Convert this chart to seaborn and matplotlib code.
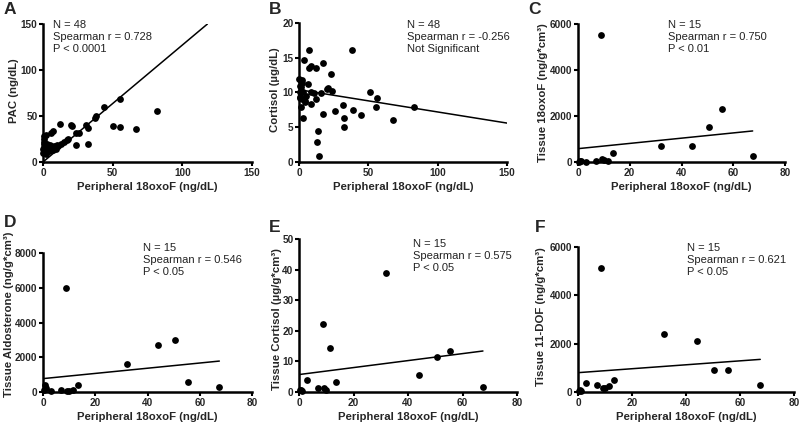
import numpy as np
import pandas as pd
import matplotlib
matplotlib.use('Agg')
import matplotlib.pyplot as plt
import seaborn as sns

# ---- data ----
# Panel A / B : peripheral 18oxoF vs PAC and cortisol (N = 48)
a_x = [55, 44, 82, 38, 37, 12, 20, 21, 31, 32,
       50, 55, 67, 26, 24, 7, 6, 1, 2.5, 24,
       32, 17, 15, 13, 10, 8, 6, 5, 4, 3,
       2, 1, 0.5, 0.3, 0.8, 1.5, 2, 3, 4, 0.5,
       1, 0.2, 7, 9, 11, 18, 3, 5]
a_y = [68, 60, 55, 50, 48, 41, 40, 39.5, 40, 37,
       39, 38, 36, 32, 31, 34, 31, 28, 29, 18,
       20, 24, 22, 20, 18, 17, 16, 14, 12, 15,
       18, 20, 22, 10, 12, 14, 9, 11, 13, 16,
       25, 14, 13, 14, 17, 25, 20, 19]

b_x = [7.5, 38, 3.8, 17.5, 8.7, 7.2, 12, 23, 1.4, 2.4,
       0.5, 6.2, 21, 20, 24, 51, 1, 3, 9, 10.5,
       16, 56, 55.5, 83, 0.8, 2.5, 4, 12, 9, 1.2,
       26, 32, 39, 45, 17.5, 32.5, 32.5, 67.5, 3.1, 14,
       12.7, 14.4, 0.3, 2, 5, 1.8, 0.6, 4.5]
b_y = [16.1, 16.1, 14.7, 14.3, 13.8, 13.5, 13.5, 12.6, 11.7, 11.3,
       10.9, 11.2, 10.6, 10.5, 10.2, 10.1, 10, 10.1, 10, 9.9,
       9.9, 9.2, 7.9, 7.9, 9.4, 9.0, 8.8, 9.0, 8.3, 7.9,
       7.4, 8.2, 7.5, 6.8, 6.9, 6.4, 5.1, 6.0, 6.4, 4.4,
       2.9, 0.9, 12, 11.8, 9.5, 10.8, 9.2, 8.6]

# Panels C-F : tissue measurements (N = 15), same peripheral x for all
tissue_x = [0.3, 0.8, 1.2, 3, 7, 8.7, 9.3, 10, 11.5, 13.5, 32, 44, 50.5, 55.5, 67.5]
c_y = [20, 50, 30, 20, 60, 5500, 150, 100, 50, 370, 700, 700, 1500, 2300, 270]
d_y = [100, 400, 250, 30, 120, 6000, 50, 80, 120, 420, 1600, 2700, 3000, 600, 280]
e_y = [0.5, 0.8, 0.3, 4, 1.2, 22.2, 1.3, 0.6, 14.3, 3.3, 39, 5.7, 11.4, 13.4, 1.7]
f_y = [50, 100, 30, 380, 300, 5150, 150, 150, 250, 480, 2400, 2100, 900, 900, 300]

# regression lines as drawn in the figure (x range, y at both ends)
fit_x = [[0, 118], [0, 150], [0, 67.5], [0, 67.5], [0, 67.5], [0, 67.5]]
fit_y = [[0, 150], [10.4, 5.6], [580, 1350], [770, 1780], [5.7, 13.4], [800, 1350]]

letters = ['A', 'B', 'C', 'D', 'E', 'F']
y_labels = ['PAC (ng/dL)', 'Cortisol (µg/dL)', 'Tissue 18oxoF (ng/g*cm³)',
            'Tissue Aldosterone (ng/g*cm³)', 'Tissue Cortisol (µg/g*cm³)',
            'Tissue 11-DOF (ng/g*cm³)']
x_label = 'Peripheral 18oxoF (ng/dL)'
stats = [['N = 48', 'Spearman r = 0.728', 'P < 0.0001'],
         ['N = 48', 'Spearman r = -0.256', 'Not Significant'],
         ['N = 15', 'Spearman r = 0.750', 'P < 0.01'],
         ['N = 15', 'Spearman r = 0.546', 'P < 0.05'],
         ['N = 15', 'Spearman r = 0.575', 'P < 0.05'],
         ['N = 15', 'Spearman r = 0.621', 'P < 0.05']]
x_limits = [150, 150, 80, 80, 80, 80]
y_limits = [150, 20, 6000, 8000, 50, 6000]
x_ticks = [[0, 50, 100, 150], [0, 50, 100, 150]] + [[0, 20, 40, 60, 80]] * 4
y_ticks = [[0, 50, 100, 150], [0, 5, 10, 15, 20], [0, 2000, 4000, 6000],
           [0, 2000, 4000, 6000, 8000], [0, 10, 20, 30, 40, 50], [0, 2000, 4000, 6000]]

panels_x = [a_x, b_x, tissue_x, tissue_x, tissue_x, tissue_x]
panels_y = [a_y, b_y, c_y, d_y, e_y, f_y]

# ---- layout (pixel boxes measured on the 800x423 picture) ----
W, H = 800, 423
boxes = [(43, 252, 24, 162), (299, 507, 23, 162), (578, 785, 24, 162),
         (43, 252, 253, 392), (299, 517, 239, 392), (578, 794, 247, 392)]
text_pos = [(0.048, 1.03), (0.518, 1.02), (0.433, 1.03),
            (0.477, 1.07), (0.524, 1.0), (0.506, 1.025)]
letter_pos = [(4, 2), (269, 2), (528, 2), (4, 215), (269, 220), (535, 220)]
# y label placement in axes fraction (keeps the long D label inside the figure)
ylabel_pos = [(-0.117, 0.52), (-0.089, 0.52), (-0.147, 0.5),
              (-0.141, 0.56), (-0.080, 0.48), (-0.146, 0.52)]

sns.set_style('ticks')
plt.rcParams['font.family'] = ['Liberation Sans', 'DejaVu Sans']

fig = plt.figure(figsize=(W / 100, H / 100), dpi=100)

for i in range(6):
    l, r, t, b = boxes[i]
    ax = fig.add_axes([l / W, 1 - b / H, (r - l) / W, (b - t) / H])
    df = pd.DataFrame({'x': panels_x[i], 'y': panels_y[i]})
    sns.scatterplot(data=df, x='x', y='y', ax=ax, color='black', s=24,
                    edgecolor='black', linewidth=0, clip_on=False, zorder=3)
    sns.lineplot(x=fit_x[i], y=fit_y[i], ax=ax, color='black', linewidth=1.1)

    ax.set_xlim(0, x_limits[i])
    ax.set_ylim(0, y_limits[i])
    ax.set_xticks(x_ticks[i])
    ax.set_yticks(y_ticks[i])
    ax.set_xlabel(x_label, fontsize=8.2, fontweight='bold', labelpad=3)
    ax.set_ylabel(y_labels[i], fontsize=8.2, fontweight='bold')
    ax.yaxis.set_label_coords(*ylabel_pos[i])
    for lab in ax.get_xticklabels() + ax.get_yticklabels():
        lab.set_fontweight('bold')
    ax.tick_params(labelsize=7.2, width=1.5, length=3, pad=1, color='black')
    sns.despine(ax=ax)
    for sp in ['left', 'bottom']:
        ax.spines[sp].set_linewidth(1.8)
        ax.spines[sp].set_color('black')

    ax.text(text_pos[i][0], text_pos[i][1], '\n'.join(stats[i]),
            transform=ax.transAxes, fontsize=8, va='top', ha='left',
            linespacing=1.25, color='#222222')
    fig.text(letter_pos[i][0] / W, 1 - letter_pos[i][1] / H, letters[i],
             fontsize=12.5, fontweight='bold', va='top', ha='left')

fig.savefig('out.png', dpi=100)
